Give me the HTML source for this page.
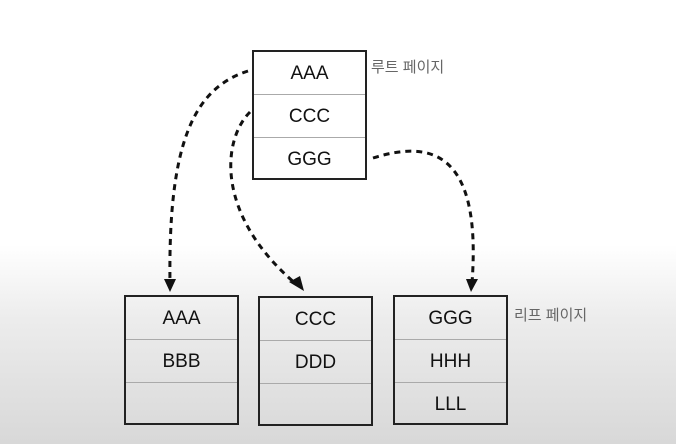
<!DOCTYPE html>
<html><head><meta charset="utf-8"><style>
html,body{margin:0;padding:0}
body{width:676px;height:444px;overflow:hidden;background:linear-gradient(to bottom,#fff 0,#fff 245px,#ececec 320px,#d8d8d8 444px);position:relative;font-family:"Liberation Sans","Noto Sans CJK KR",sans-serif}
.box{position:absolute;border:2px solid #222;box-sizing:border-box;width:115px;height:130px}
.row{height:42px;border-bottom:1px solid #aaa;text-align:center;line-height:44px;font-size:19px;color:#111}
.row:last-child{border-bottom:none}
.lbl{position:absolute;font-size:15px;color:#666}
</style></head><body>
<svg width="676" height="444" style="position:absolute;left:0;top:0">
<g fill="none" stroke="#111" stroke-width="3" stroke-dasharray="6,5">
<path d="M248,71 C195,88 168,140 170,283"/>
<path d="M250,112 C222,140 215,215 296,284"/>
<path d="M373,158 C430,140 482,150 472,283"/>
</g>
<path d="M164,279 L176,279 L170,292 Z" fill="#111"/>
<path d="M289,282 L300,276 L304,291 Z" fill="#111"/>
<path d="M466,279 L478,279 L471,292 Z" fill="#111"/>
</svg>
<div class="box" style="left:252px;top:50px;background:#fff"><div class="row">AAA</div><div class="row">CCC</div><div class="row">GGG</div></div>
<div class="lbl" style="left:371px;top:56px">루트 페이지</div>
<div class="box" style="left:124px;top:295px"><div class="row">AAA</div><div class="row">BBB</div><div class="row"></div></div>
<div class="box" style="left:258px;top:296px"><div class="row">CCC</div><div class="row">DDD</div><div class="row"></div></div>
<div class="box" style="left:393px;top:295px"><div class="row">GGG</div><div class="row">HHH</div><div class="row">LLL</div></div>
<div class="lbl" style="left:514px;top:304px">리프 페이지</div>
</body></html>
